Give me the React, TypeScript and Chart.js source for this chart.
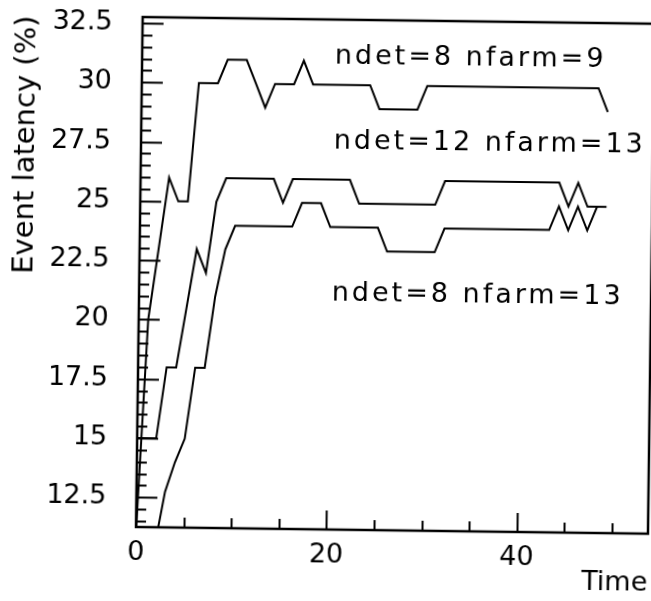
import React, { useEffect, useRef } from "react";
import { Chart, registerables } from "chart.js";

Chart.register(...registerables);

const times = [
  0, 1, 2, 3, 4, 5, 6, 7, 8, 9,
  10, 11, 12, 13, 14, 15, 16, 17, 18, 19,
  20, 21, 22, 23, 24, 25, 26, 27, 28, 29,
  30, 31, 32, 33, 34, 35, 36, 37, 38, 39,
  40, 41, 42, 43, 44, 45, 46, 47, 48, 49,
];

// ndet=8 nfarm=9
const latency8x9 = [
  11, 20, 23, 26, 25, 25, 30, 30, 30, 31,
  31, 31, 30, 29, 30, 30, 30, 31, 30, 30,
  30, 30, 30, 30, 30, 29, 29, 29, 29, 29,
  30, 30, 30, 30, 30, 30, 30, 30, 30, 30,
  30, 30, 30, 30, 30, 30, 30, 30, 30, 29,
];

// ndet=12 nfarm=13
const latency12x13 = [
  15, 15, 15, 18, 18, 20.5, 23, 22, 25, 26,
  26, 26, 26, 26, 26, 25, 26, 26, 26, 26,
  26, 26, 26, 25, 25, 25, 25, 25, 25, 25,
  25, 25, 26, 26, 26, 26, 26, 26, 26, 26,
  26, 26, 26, 26, 26, 25, 26, 25, 25, 25,
];

// ndet=8 nfarm=13
const latency8x13 = [
  null, null, 10.5, 12.75, 14, 15, 18, 18, 21, 23,
  24, 24, 24, 24, 24, 24, 24, 25, 25, 25,
  24, 24, 24, 24, 24, 24, 23, 23, 23, 23,
  23, 23, 24, 24, 24, 24, 24, 24, 24, 24,
  24, 24, 24, 24, 25, 24, 25, 24, 25, null,
];

const seriesNames = ["ndet=8 nfarm=9", "ndet=12 nfarm=13", "ndet=8 nfarm=13"];
const xTitle = "Time";
const yTitle = "Event latency (%)";

const FONT = "DejaVu Sans";

function toPoints(vals: (number | null)[]) {
  return times.map((t, i) => ({ x: t, y: vals[i] }));
}

const framePlugin = {
  id: "frameTicks",
  afterDraw(chart: any) {
    const { ctx, chartArea } = chart;
    const { left, right, top, bottom } = chartArea;
    const xs = chart.scales.x;
    const ys = chart.scales.y;
    ctx.save();
    ctx.strokeStyle = "#000";
    ctx.lineWidth = 2.5;
    ctx.strokeRect(left, top, right - left, bottom - top);

    ctx.lineWidth = 2;
    ctx.beginPath();
    // y ticks: minor every 0.5, major every 2.5
    for (let k = 23; k <= 65; k++) {
      const v = k * 0.5;
      if (v < ys.min || v > ys.max) continue;
      const major = k % 5 === 0;
      const py = Math.round(ys.getPixelForValue(v)) + 0.5;
      ctx.moveTo(left, py);
      ctx.lineTo(left + (major ? 21 : 10), py);
    }
    // x ticks: minor every 5, major every 20
    for (let k = 1; k <= 10; k++) {
      const v = k * 5;
      if (v > xs.max) continue;
      const major = v % 20 === 0;
      const px = Math.round(xs.getPixelForValue(v)) + 0.5;
      ctx.moveTo(px, bottom);
      ctx.lineTo(px, bottom - (major ? 19 : 10));
    }
    ctx.stroke();

    // series labels
    ctx.fillStyle = "#000";
    ctx.font = `27px "${FONT}"`;
    ctx.textAlign = "left";
    ctx.textBaseline = "alphabetic";
    try {
      (ctx as any).letterSpacing = "3px";
    } catch (e) {}
    const offsets = [43.7, 128.8, 280.5];
    seriesNames.forEach((name, i) => {
      ctx.fillText(name, left + 192.7, top + offsets[i]);
    });
    ctx.restore();
  },
};

export default function App() {
  const ref = useRef<HTMLCanvasElement | null>(null);

  useEffect(() => {
    if (!ref.current) return;
    const mk = (vals: (number | null)[]) => ({
      data: toPoints(vals),
      borderColor: "#000",
      backgroundColor: "#000",
      borderWidth: 2,
      pointRadius: 0,
      tension: 0,
      fill: false,
      spanGaps: false,
    });
    const chart = new Chart(ref.current, {
      type: "line",
      data: {
        datasets: [
          { label: seriesNames[0], ...mk(latency8x9) },
          { label: seriesNames[1], ...mk(latency12x13) },
          { label: seriesNames[2], ...mk(latency8x13) },
        ],
      },
      options: {
        animation: false,
        responsive: false,
        devicePixelRatio: 1,
        layout: { padding: { left: 0, top: 17, right: 3, bottom: 0 } },
        plugins: {
          legend: { display: false },
          tooltip: { enabled: false },
        },
        scales: {
          x: {
            type: "linear",
            position: "bottom",
            min: 0,
            max: 53.8,
            afterFit: (s: any) => {
              s.height = 74;
              s.paddingLeft = 0;
              s.paddingRight = 0;
              s.paddingTop = 0;
              s.paddingBottom = 0;
            },
            grid: { display: false, drawTicks: false },
            border: { display: false },
            ticks: {
              stepSize: 20,
              includeBounds: false,
              padding: 10,
              autoSkip: false,
              maxRotation: 0,
              color: "#000",
              font: { family: FONT, size: 27 },
            },
            title: {
              display: true,
              text: xTitle,
              align: "end",
              color: "#000",
              font: { family: FONT, size: 27 },
              padding: { top: 0, bottom: 8 },
            },
          },
          y: {
            type: "linear",
            min: 11.25,
            max: 32.75,
            afterFit: (s: any) => {
              s.width = 136;
              s.paddingLeft = 0;
              s.paddingRight = 0;
              s.paddingTop = 0;
              s.paddingBottom = 0;
            },
            grid: { display: false, drawTicks: false },
            border: { display: false },
            ticks: {
              stepSize: 2.5,
              includeBounds: false,
              padding: 30,
              color: "#000",
              font: { family: FONT, size: 27 },
            },
            title: {
              display: true,
              text: yTitle,
              align: "end",
              color: "#000",
              font: { family: FONT, size: 29 },
              padding: { top: 4, bottom: 0 },
            },
          },
        },
      } as any,
      plugins: [framePlugin],
    });
    return () => chart.destroy();
  }, []);

  return (
    <div style={{ position: "fixed", left: 0, top: 0, width: 651, height: 601, background: "#fff" }}>
      <canvas
        ref={ref}
        width={651}
        height={601}
        style={{
          display: "block",
          width: 651,
          height: 601,
          transformOrigin: "136px 527px",
          transform: "rotate(0.75deg)",
        }}
      />
    </div>
  );
}
